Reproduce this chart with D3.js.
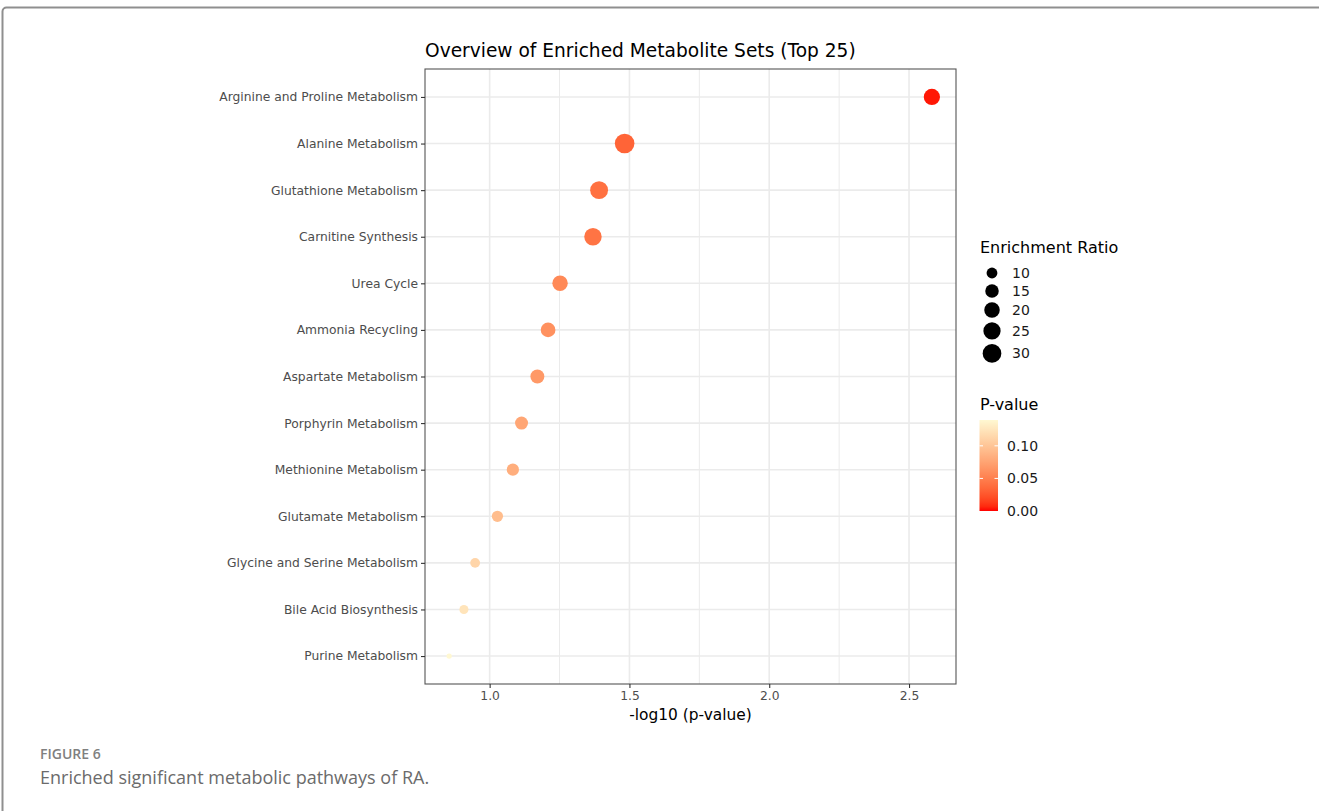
<!DOCTYPE html>
<html>
<head>
<meta charset="utf-8">
<script src="https://cdn.jsdelivr.net/npm/d3@7"></script>
<style>
  html, body { margin: 0; padding: 0; background: #ffffff; }
  svg { display: block; }
</style>
</head>
<body>
<svg id="chart" width="1319" height="811"></svg>
<script>
// Metabolite set enrichment results, top to bottom
const pathways = [
  "Arginine and Proline Metabolism",
  "Alanine Metabolism",
  "Glutathione Metabolism",
  "Carnitine Synthesis",
  "Urea Cycle",
  "Ammonia Recycling",
  "Aspartate Metabolism",
  "Porphyrin Metabolism",
  "Methionine Metabolism",
  "Glutamate Metabolism",
  "Glycine and Serine Metabolism",
  "Bile Acid Biosynthesis",
  "Purine Metabolism"
];
const pValues = [0.00262, 0.0329, 0.0406, 0.0427, 0.0560, 0.0618, 0.0675,
                 0.0769, 0.0826, 0.0938, 0.1127, 0.1236, 0.1396];
const enrichmentRatios = [22.0, 33.4, 27.1, 25.8, 19.7, 17.8, 16.0,
                          13.8, 12.4, 10.6, 8.6, 7.8, 5.9];

const xTicks = [1.0, 1.5, 2.0, 2.5];
const xMinorTicks = [1.25, 1.75, 2.25];
const sizeBreaks = [10, 15, 20, 25, 30];
const pBreaks = [0.00, 0.05, 0.10];

const titleText = "Overview of Enriched Metabolite Sets (Top 25)";
const xTitle = "-log10 (p-value)";
const sizeLegendTitle = "Enrichment Ratio";
const colorLegendTitle = "P-value";
const figureLabel = "FIGURE 6";
const figureCaption = "Enriched significant metabolic pathways of RA.";

const rows = pathways.map((name, i) => ({
  name,
  p: pValues[i],
  logp: -Math.log10(pValues[i]),
  ratio: enrichmentRatios[i]
}));

const svg = d3.select("#chart");
const FONT = "'DejaVu Sans', sans-serif";

// Article frame
svg.append("rect")
  .attr("x", 2.5).attr("y", 7.5)
  .attr("width", 1400).attr("height", 900)
  .attr("rx", 4)
  .attr("fill", "none")
  .attr("stroke", "#8f8f8f")
  .attr("stroke-width", 2);

// Panel geometry
const panel = { left: 425, right: 956, top: 69, bottom: 684 };

// x: -log10(p) with 5% expansion on both sides
const ext = d3.extent(rows, d => d.logp);
const pad = (ext[1] - ext[0]) * 0.05;
const x = d3.scaleLinear()
  .domain([ext[0] - pad, ext[1] + pad])
  .range([panel.left, panel.right]);

const y = d3.scalePoint()
  .domain(pathways)
  .range([panel.top, panel.bottom])
  .padding(0.6);

// Colour: p-value from red to pale yellow
const pMax = d3.max(pValues);
const color = d3.scaleLinear()
  .domain([0, pMax])
  .range(["#ff0000", "#fff8d2"])
  .interpolate(d3.interpolateLab);

// Size: area-proportional mapping of enrichment ratio to diameter
const ratioUnit = d3.scaleLinear().domain(d3.extent(enrichmentRatios)).range([0, 1]);
const diameter = d3.scaleLinear().domain([0, 1]).range([5.3, 19.6]);
const radius = v => diameter(Math.sqrt(Math.max(0, ratioUnit(v)))) / 2;

// Panel background and grid
const g = svg.append("g");
g.append("rect")
  .attr("x", panel.left).attr("y", panel.top)
  .attr("width", panel.right - panel.left)
  .attr("height", panel.bottom - panel.top)
  .attr("fill", "#ffffff");

g.selectAll("line.minor-x").data(xMinorTicks).join("line")
  .attr("class", "minor-x")
  .attr("x1", d => x(d)).attr("x2", d => x(d))
  .attr("y1", panel.top).attr("y2", panel.bottom)
  .attr("stroke", "#ebebeb").attr("stroke-width", 1);

g.selectAll("line.major-x").data(xTicks).join("line")
  .attr("class", "major-x")
  .attr("x1", d => x(d)).attr("x2", d => x(d))
  .attr("y1", panel.top).attr("y2", panel.bottom)
  .attr("stroke", "#ebebeb").attr("stroke-width", 1.6);

g.selectAll("line.major-y").data(pathways).join("line")
  .attr("class", "major-y")
  .attr("x1", panel.left).attr("x2", panel.right)
  .attr("y1", d => y(d)).attr("y2", d => y(d))
  .attr("stroke", "#ebebeb").attr("stroke-width", 1.6);

// Points
g.selectAll("circle.pt").data(rows).join("circle")
  .attr("class", "pt")
  .attr("cx", d => x(d.logp))
  .attr("cy", d => y(d.name))
  .attr("r", d => radius(d.ratio))
  .attr("fill", d => color(d.p));

// Panel border
g.append("rect")
  .attr("x", panel.left).attr("y", panel.top)
  .attr("width", panel.right - panel.left)
  .attr("height", panel.bottom - panel.top)
  .attr("fill", "none")
  .attr("stroke", "#555555")
  .attr("stroke-width", 1.1);

// Axes
const xAxis = svg.append("g")
  .attr("transform", `translate(0,${panel.bottom})`)
  .call(d3.axisBottom(x).tickValues(xTicks).tickFormat(d3.format(".1f")).tickSize(4).tickPadding(3));
const yAxis = svg.append("g")
  .attr("transform", `translate(${panel.left},0)`)
  .call(d3.axisLeft(y).tickSize(4).tickPadding(3));

[xAxis, yAxis].forEach(a => {
  a.select(".domain").remove();
  a.selectAll(".tick line").attr("stroke", "#333333").attr("stroke-width", 1.1);
  a.selectAll(".tick text")
    .attr("fill", "#4d4d4d")
    .style("font-family", FONT)
    .style("font-size", "12.3px");
});

// Title
svg.append("text")
  .attr("x", panel.left).attr("y", 57)
  .style("font-family", FONT).style("font-size", "18.6px")
  .attr("fill", "#000000")
  .text(titleText);

// x-axis title
svg.append("text")
  .attr("x", (panel.left + panel.right) / 2).attr("y", 720)
  .attr("text-anchor", "middle")
  .style("font-family", FONT).style("font-size", "15.4px")
  .attr("fill", "#000000")
  .text(xTitle);

// Size legend
const legX = 980;
svg.append("text")
  .attr("x", legX).attr("y", 253)
  .style("font-family", FONT).style("font-size", "16px")
  .text(sizeLegendTitle);

let cursor = 264;
const keyRows = sizeBreaks.map(v => {
  const h = Math.max(18, radius(v) * 2 + 4.5);
  const cy = cursor + h / 2;
  cursor += h;
  return { v, cy };
});
const sizeKeys = svg.append("g");
sizeKeys.selectAll("circle").data(keyRows).join("circle")
  .attr("cx", 992).attr("cy", d => d.cy)
  .attr("r", d => radius(d.v))
  .attr("fill", "#000000");
sizeKeys.selectAll("text").data(keyRows).join("text")
  .attr("x", 1012).attr("y", d => d.cy)
  .attr("dy", "0.36em")
  .style("font-family", FONT).style("font-size", "14px")
  .attr("fill", "#1a1a1a")
  .text(d => d.v);

// Colour legend
svg.append("text")
  .attr("x", legX).attr("y", 410)
  .style("font-family", FONT).style("font-size", "16px")
  .text(colorLegendTitle);

const bar = { x: 979.5, w: 18.5, top: 420, bottom: 511 };
const barY = d3.scaleLinear().domain([0, pMax]).range([bar.bottom, bar.top]);
const grad = svg.append("defs").append("linearGradient")
  .attr("id", "pgrad")
  .attr("x1", 0).attr("y1", 1).attr("x2", 0).attr("y2", 0);
d3.range(0, 1.0001, 0.05).forEach(t => {
  grad.append("stop")
    .attr("offset", t)
    .attr("stop-color", color(t * pMax));
});
svg.append("rect")
  .attr("x", bar.x).attr("y", bar.top)
  .attr("width", bar.w).attr("height", bar.bottom - bar.top)
  .attr("fill", "url(#pgrad)");

const cb = svg.append("g");
cb.selectAll("line.tl").data(pBreaks.filter(v => v > 0)).join("line")
  .attr("class", "tl")
  .attr("x1", bar.x).attr("x2", bar.x + 3.5)
  .attr("y1", d => barY(d)).attr("y2", d => barY(d))
  .attr("stroke", "#ffffff").attr("stroke-width", 1);
cb.selectAll("line.tr").data(pBreaks.filter(v => v > 0)).join("line")
  .attr("class", "tr")
  .attr("x1", bar.x + bar.w - 3.5).attr("x2", bar.x + bar.w)
  .attr("y1", d => barY(d)).attr("y2", d => barY(d))
  .attr("stroke", "#ffffff").attr("stroke-width", 1);
cb.selectAll("text").data(pBreaks).join("text")
  .attr("x", 1007).attr("y", d => barY(d))
  .attr("dy", "0.36em")
  .style("font-family", FONT).style("font-size", "14px")
  .attr("fill", "#1a1a1a")
  .text(d => d3.format(".2f")(d));

// Figure caption
svg.append("text")
  .attr("x", 40).attr("y", 759)
  .style("font-family", "'Open Sans', sans-serif")
  .style("font-size", "14px").style("font-weight", 600)
  .attr("fill", "#808080")
  .text(figureLabel);
svg.append("text")
  .attr("x", 40).attr("y", 784)
  .style("font-family", "'Open Sans', sans-serif")
  .style("font-size", "18px")
  .attr("fill", "#6b6b6b")
  .text(figureCaption);
</script>
</body>
</html>
